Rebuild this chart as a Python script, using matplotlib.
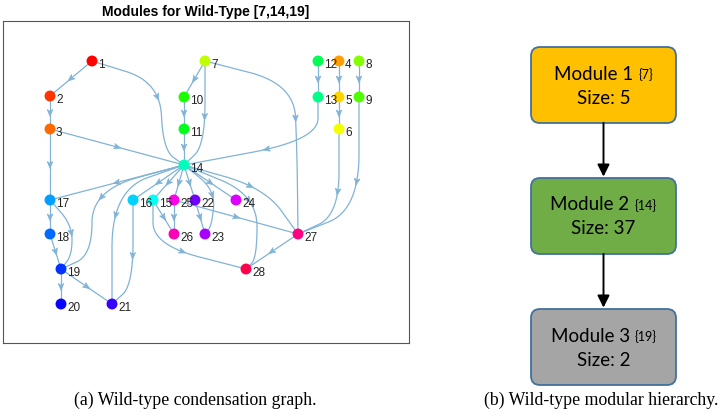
import numpy as np
import matplotlib.pyplot as plt
from matplotlib.patches import FancyBboxPatch, FancyArrowPatch, Polygon

# node layout (pixel units, y down)
node_x = [92, 50, 50, 339, 339, 339, 205, 359, 359, 184, 184, 318, 318, 184,
          153, 133, 50, 50, 61, 61, 112, 195, 205, 236, 174, 174, 298, 246]
node_y = [61, 96, 129, 61, 97, 129, 61, 61, 97, 97, 129, 61, 97, 165,
          200, 200, 200, 234, 269, 304, 304, 200, 234, 200, 200, 234, 234, 269]

edges = [(1, 2), (1, 14), (2, 3), (3, 14), (3, 17), (7, 10), (7, 14), (7, 27),
         (10, 11), (11, 14), (12, 13), (13, 14), (4, 5), (5, 6), (6, 27),
         (8, 9), (9, 27), (14, 17), (14, 19), (14, 21), (14, 16), (14, 15),
         (14, 25), (14, 22), (14, 23), (14, 24), (14, 27), (14, 28),
         (17, 18), (17, 19), (18, 19), (19, 20), (19, 21), (16, 21),
         (15, 26), (15, 28), (25, 26), (25, 27), (22, 23), (27, 28)]

# bend points of the routed (curved) edges
bends = {
    (1, 14): [(160, 82), (163, 150)],
    (7, 14): [(205, 145)],
    (7, 27): [(294, 84), (297, 150)],
    (13, 14): [(318, 140)],
    (6, 27): [(339, 215)],
    (9, 27): [(359, 210)],
    (14, 19): [(92, 190), (92, 255)],
    (14, 21): [(112, 190)],
    (17, 19): [(72, 225), (72, 255)],
    (16, 21): [(133, 285)],
    (14, 23): [(215, 190), (212, 225)],
    (14, 27): [(265, 188)],
    (14, 28): [(257, 195), (257, 258)],
    (15, 28): [(153, 245)],
}

title = "Modules for Wild-Type [7,14,19]"
caption_a = "(a) Wild-type condensation graph."
caption_b = "(b) Wild-type modular hierarchy."

modules = ["Module 1", "Module 2", "Module 3"]
members = ["{7}", "{14}", "{19}"]
sizes = [5, 37, 2]
box_colors = ["#FFC000", "#70AD47", "#A5A5A5"]

edge_col = "#80b3d6"


def route(pts, n=30):
    pts = np.array(pts, float)
    if len(pts) == 2:
        return pts
    mids = (pts[:-1] + pts[1:]) / 2
    out = [pts[0]]
    t = np.linspace(0, 1, n)[:, None]
    for i in range(1, len(pts) - 1):
        a, c, b = mids[i - 1], pts[i], mids[i]
        seg = (1 - t) ** 2 * a + 2 * (1 - t) * t * c + t ** 2 * b
        out.extend(seg)
    out.append(pts[-1])
    return np.array(out)


fig = plt.figure(figsize=(7.2, 4.16), dpi=100)

# right panel + captions drawn on a full-figure axes in pixel units
bg = fig.add_axes([0, 0, 1, 1])
bg.set_xlim(0, 720)
bg.set_ylim(416, 0)
bg.axis("off")

ax = fig.add_axes([3 / 720, 73 / 416, 406 / 720, 322 / 416])
ax.set_xlim(3, 409)
ax.set_ylim(343, 21)
ax.set_xticks([])
ax.set_yticks([])
for s in ax.spines.values():
    s.set_color("#555555")
    s.set_linewidth(0.8)
ax.set_title(title, fontsize=10, fontweight="bold", family="Liberation Sans", pad=3.5)

for (a, b) in edges:
    pts = [(node_x[a - 1], node_y[a - 1])] + bends.get((a, b), []) + [(node_x[b - 1], node_y[b - 1])]
    p = route(pts)
    ax.plot(p[:, 0], p[:, 1], color=edge_col, lw=0.9, zorder=1)
    seg = np.diff(p, axis=0)
    L = np.hypot(seg[:, 0], seg[:, 1])
    cum = np.concatenate([[0], np.cumsum(L)])
    half = cum[-1] / 2
    k = max(np.searchsorted(cum, half) - 1, 0)
    d = seg[k] / L[k]
    m = p[k] + d * (half - cum[k])
    nrm = np.array([-d[1], d[0]])
    head = [m + d * 3.8, m - d * 3 + nrm * 2.8, m - d * 1.2, m - d * 3 - nrm * 2.8]
    ax.add_patch(Polygon(head, closed=True, facecolor=edge_col, edgecolor=edge_col, lw=0.5, zorder=2))

cmap = plt.get_cmap("hsv")
cols = [cmap(i / 28) for i in range(28)]
ax.scatter(node_x, node_y, s=62, c=cols, zorder=3, linewidths=0)
for i in range(28):
    ax.text(node_x[i] + 6, node_y[i] + 4, str(i + 1), fontsize=8.5, family="Liberation Sans",
            ha="left", va="center", color="#222222", zorder=4)

# module hierarchy boxes
fig.canvas.draw()
r = fig.canvas.get_renderer()
bx, bw, bh, top0, step = 531, 145, 76, 47, 131
cx = bx + bw / 2
for i in range(3):
    top = top0 + i * step
    bg.add_patch(FancyBboxPatch((bx, top), bw, bh, boxstyle="round,pad=0,rounding_size=9",
                                facecolor=box_colors[i], edgecolor="#41719C", lw=1.3))
    t1 = bg.text(0, top + 27, modules[i] + " ", fontsize=13.5, family="Lato", va="center", ha="left")
    t2 = bg.text(0, top + 28, members[i], fontsize=9, family="Lato", va="center", ha="left")
    w1 = t1.get_window_extent(r).width
    w2 = t2.get_window_extent(r).width
    x0 = cx - (w1 + w2) / 2
    t1.set_x(x0)
    t2.set_x(x0 + w1)
    bg.text(cx, top + 51, "Size: %d" % sizes[i], fontsize=13.5, family="Lato", va="center", ha="center")
    if i < 2:
        bg.add_patch(FancyArrowPatch((cx, top + bh), (cx, top + step), arrowstyle="-|>,head_length=0.6,head_width=0.3",
                                     mutation_scale=12, color="black", lw=1.4, shrinkA=0, shrinkB=1))

bg.text(195, 400, caption_a, fontsize=12.8, family="Liberation Serif", ha="center", va="center")
bg.text(601, 400, caption_b, fontsize=12.8, family="Liberation Serif", ha="center", va="center")

fig.savefig("out.png", dpi=100)
